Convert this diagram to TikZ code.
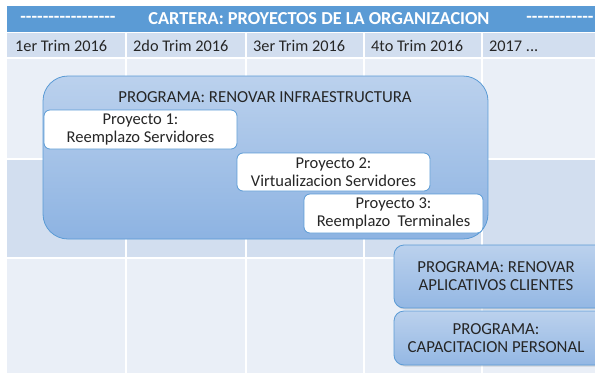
\documentclass[tikz,border=0pt]{standalone}
\usepackage{fontspec}
\setmainfont{Carlito}
\newfontfamily\plainfont{Carlito}[Ligatures=TeXOff]
\usetikzlibrary{shadows}
\definecolor{hdr}{HTML}{5B9BD5}
\definecolor{rowdark}{HTML}{D2DEEF}
\definecolor{rowlight}{HTML}{EAEFF7}
\definecolor{boxtop}{HTML}{BBD1ED}
\definecolor{boxbot}{HTML}{8DB3E2}
\definecolor{boxline}{HTML}{5B9BD5}
\definecolor{txt}{HTML}{262626}
\tikzset{
  cellline/.style={white, line width=1.6pt},
  qtext/.style={anchor=west, font=\fontsize{16.3}{18}\selectfont, text=txt, inner sep=0pt},
  hdrtext/.style={font=\bfseries\fontsize{18.3}{20}\selectfont, text=white, inner sep=0pt},
  bigprog/.style={draw=boxline, line width=0.8pt, rounded corners=25pt, top color=boxtop, bottom color=boxbot, inner sep=0pt},
  prog/.style={draw=boxline, line width=0.8pt, rounded corners=10pt, top color=boxtop, bottom color=boxbot!85!boxtop, inner sep=0pt, align=center, font=\fontsize{16.8}{18}\selectfont, text=txt, drop shadow={shadow xshift=1pt, shadow yshift=-1.5pt, opacity=0.25}},
  proj/.style={draw=boxline, line width=0.8pt, rounded corners=6pt, fill=white, inner sep=0pt, align=center, font=\fontsize{16.5}{18}\selectfont, text=txt},
  ttl/.style={font=\fontsize{16.8}{18}\selectfont, text=txt, inner sep=0pt},
}
\begin{document}
\begin{tikzpicture}[x=1pt, y=-1pt]
\clip (0,0) rectangle (595,373);
\fill[white] (0,0) rectangle (595,373);
% header bar
\fill[hdr] (7,6) rectangle (595,32);
\node[hdrtext, font=\plainfont\bfseries\fontsize{18.3}{20}\selectfont] (dl) at (68,19) {-----------------};
\node[hdrtext] (ht) at (319,19) {CARTERA: PROYECTOS DE LA ORGANIZACION};
\node[hdrtext, font=\plainfont\bfseries\fontsize{18.3}{20}\selectfont] (dr) at (560,19) {------------};
% rows
\fill[rowdark] (7,32) rectangle (595,58);
\fill[rowlight] (7,58) rectangle (595,159);
\fill[rowdark] (7,159) rectangle (595,258);
\fill[rowlight] (7,258) rectangle (595,373);
\foreach \yy in {32.5,58,159,258} \draw[cellline] (7,\yy) -- (595,\yy);
\foreach \xx in {126,246,364,482} \draw[cellline] (\xx,32) -- (\xx,373);
% quarter labels
\node[qtext] (q1) at (15,46) {1er Trim 2016};
\node[qtext] (q2) at (133,46) {2do Trim 2016};
\node[qtext] (q3) at (253,46) {3er Trim 2016};
\node[qtext] (q4) at (371,46) {4to Trim 2016};
\node[qtext] (q5) at (489,46) {2017 ...};
% big program
\node[bigprog, minimum width=445, minimum height=163] (pg1) at (265.5,157.5) {};
\node[ttl] (t1) at (265,97) {PROGRAMA: RENOVAR INFRAESTRUCTURA};
\node[proj, minimum width=193, minimum height=39] (p1) at (140.5,129.5) {Proyecto 1:\\Reemplazo Servidores};
\node[proj, minimum width=193, minimum height=38] (p2) at (333.5,172) {Proyecto 2:\\Virtualizacion Servidores};
\node[proj, minimum width=179, minimum height=39] (p3) at (393.5,213.5) {Proyecto 3:\\Reemplazo\ \ Terminales};
% other programs
\node[prog, minimum width=212, minimum height=63] (pg2) at (500,276.5) {\hspace*{-8pt}PROGRAMA: RENOVAR\\\hspace*{-8pt}APLICATIVOS CLIENTES};
\node[prog, minimum width=212, minimum height=54] (pg3) at (500,338) {\hspace*{-8pt}PROGRAMA:\\\hspace*{-8pt}CAPACITACION PERSONAL};
\end{tikzpicture}
\end{document}
